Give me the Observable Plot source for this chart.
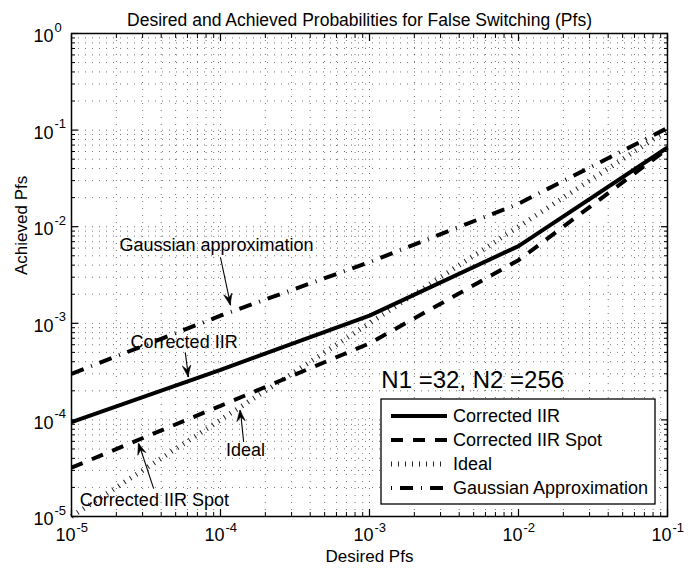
<!DOCTYPE html>
<html><head><meta charset="utf-8">
<script src="https://cdn.jsdelivr.net/npm/d3@7"></script>
<script src="https://cdn.jsdelivr.net/npm/@observablehq/plot@0.6"></script>
<style>
body{margin:0;background:#fff;}
svg{font-family:"Liberation Sans",Arial,Helvetica,sans-serif;}
</style>
</head><body><div id="chart"></div>
<script>
// ---- data ----
const desiredPfs       = [1e-5, 1e-4, 1e-3, 1e-2, 1e-1];
const correctedIIR     = [9.5e-5, 3.3e-4, 1.2e-3, 6.3e-3, 6.6e-2];
const correctedIIRSpot = [3.2e-5, 1.4e-4, 6.2e-4, 4.5e-3, 6.4e-2];
const idealPfs         = [1e-5, 1e-4, 1e-3, 1e-2, 1e-1];
const gaussianApprox   = [3.0e-4, 1.2e-3, 4.3e-3, 1.73e-2, 1.05e-1];
const seriesNames = ["Corrected IIR", "Corrected IIR Spot", "Ideal", "Gaussian Approximation"];
const seriesValues = [correctedIIR, correctedIIRSpot, idealPfs, gaussianApprox];

const xMajorTicks = [1e-5, 1e-4, 1e-3, 1e-2, 1e-1];
const xExponents  = ["-5", "-4", "-3", "-2", "-1"];
const yMajorTicks = [1e-5, 1e-4, 1e-3, 1e-2, 1e-1, 1e0];
const yExponents  = ["-5", "-4", "-3", "-2", "-1", "0"];

const titleText = "Desired and Achieved Probabilities for False Switching (Pfs)";
const xLabel = "Desired Pfs";
const yLabel = "Achieved Pfs";
const paramText = "N1 =32, N2 =256";
const paramPos = {x: 1.2e-3, y: 2.6e-4};

const annotations = [
  {label: "Gaussian approximation", tx: 9.4e-5, ty: 6.4e-3, x1: 1.0e-4, y1: 4.8e-3, x2: 1.17e-4, y2: 1.53e-3},
  {label: "Corrected IIR",          tx: 5.7e-5, ty: 6.4e-4, x1: 5.8e-5, y1: 5.0e-4, x2: 6.1e-5, y2: 2.77e-4},
  {label: "Ideal",                  tx: 1.47e-4, ty: 4.9e-5, x1: 1.43e-4, y1: 5.9e-5, x2: 1.36e-4, y2: 1.25e-4},
  {label: "Corrected IIR Spot",     tx: 3.6e-5, ty: 1.49e-5, x1: 3.56e-5, y1: 1.94e-5, x2: 2.83e-5, y2: 5.66e-5}
];

// ---- styles ----
const styles = {
  "Corrected IIR":          {strokeWidth: 4, dash: null,       offset: 0,  stroke: "#000"},
  "Corrected IIR Spot":     {strokeWidth: 4, dash: "12,10",    offset: 0,  stroke: "#000"},
  "Ideal":                  {strokeWidth: 5, dash: "1,6",      offset: 0,  stroke: "#222"},
  "Gaussian Approximation": {strokeWidth: 4, dash: "13,8,1,8", offset: 21, stroke: "#000"}
};

const rows = seriesNames.flatMap((name, s) =>
  desiredPfs.map((x, i) => ({series: name, x, y: seriesValues[s][i]})));

const minor = (majors) => majors.slice(0, -1).flatMap(m => [2,3,4,5,6,7,8,9].map(k => k * m));
const xMinor = minor(xMajorTicks);
const yMinor = minor(yMajorTicks);
const xAll = [...xMajorTicks, ...xMinor];
const yAll = [...yMajorTicks, ...yMinor];

const W = 697, H = 573;
const M = {top: 33, right: 30, bottom: 57, left: 71};
const tickFont = 18, expFont = 13, labelFont = 17, legendFont = 18, titleFont = 17.5, paramFont = 24;

const lineMark = (name) => Plot.line(rows.filter(r => r.series === name), {
  x: "x", y: "y",
  stroke: styles[name].stroke,
  strokeWidth: styles[name].strokeWidth,
  strokeDasharray: styles[name].dash,
  strokeLinecap: "butt", strokeLinejoin: "miter"
});

const gridStyle = {stroke: "#000", strokeOpacity: 0.55, strokeDasharray: "1,6", strokeWidth: 1};

const plot = Plot.plot({
  width: W, height: H,
  marginTop: M.top, marginRight: M.right, marginBottom: M.bottom, marginLeft: M.left,
  x: {type: "log", domain: [1e-5, 1e-1], axis: null},
  y: {type: "log", domain: [1e-5, 1], axis: null},
  style: {background: "#fff", color: "#000"},
  marks: [
    Plot.ruleX(xAll, {...gridStyle}),
    Plot.ruleY(yAll, {...gridStyle}),
    // inward ticks on all four sides
    Plot.axisX({anchor: "bottom", ticks: xMajorTicks, tickSize: 7, dy: -7, tickFormat: () => "", label: null, strokeWidth: 1.2}),
    Plot.axisX({anchor: "bottom", ticks: xMinor, tickSize: 4, dy: -4, tickFormat: () => "", label: null}),
    Plot.axisX({anchor: "top", ticks: xMajorTicks, tickSize: 7, dy: 7, tickFormat: () => "", label: null, strokeWidth: 1.2}),
    Plot.axisX({anchor: "top", ticks: xMinor, tickSize: 4, dy: 4, tickFormat: () => "", label: null}),
    Plot.axisY({anchor: "left", ticks: yMajorTicks, tickSize: 7, dx: 7, tickFormat: () => "", label: null, strokeWidth: 1.2}),
    Plot.axisY({anchor: "left", ticks: yMinor, tickSize: 4, dx: 4, tickFormat: () => "", label: null}),
    Plot.axisY({anchor: "right", ticks: yMajorTicks, tickSize: 7, dx: -7, tickFormat: () => "", label: null, strokeWidth: 1.2}),
    Plot.axisY({anchor: "right", ticks: yMinor, tickSize: 4, dx: -4, tickFormat: () => "", label: null}),
    // tick labels as 10 + superscript exponent
    Plot.text(xMajorTicks, {x: d => d, frameAnchor: "bottom", text: () => "10", textAnchor: "end", dx: 4, dy: 24, fontSize: tickFont}),
    Plot.text(xMajorTicks, {x: d => d, frameAnchor: "bottom", text: (d, i) => xExponents[i], textAnchor: "start", dx: 5, dy: 15, fontSize: expFont}),
    Plot.text(yMajorTicks, {y: d => d, frameAnchor: "left", text: () => "10", textAnchor: "end", dx: -18, dy: 3, fontSize: tickFont}),
    Plot.text(yMajorTicks, {y: d => d, frameAnchor: "left", text: (d, i) => yExponents[i], textAnchor: "start", dx: -17, dy: -6, fontSize: expFont}),
    // axis labels and title
    Plot.text([xLabel], {frameAnchor: "bottom", text: d => d, dy: 45, fontSize: labelFont}),
    Plot.text([yLabel], {frameAnchor: "left", text: d => d, rotate: -90, dx: -50, fontSize: labelFont}),
    Plot.text([titleText], {frameAnchor: "top", text: d => d, dx: -10, dy: -20, fontSize: titleFont}),
    // series
    lineMark("Ideal"),
    lineMark("Corrected IIR Spot"),
    lineMark("Gaussian Approximation"),
    lineMark("Corrected IIR"),
    // annotation shafts
    Plot.link(annotations, {x1: "x1", y1: "y1", x2: "x2", y2: "y2", stroke: "#000", strokeWidth: 1.1}),
    Plot.text(annotations, {x: "tx", y: "ty", text: "label", fontSize: legendFont}),
    Plot.text([paramText], {x: () => paramPos.x, y: () => paramPos.y, text: d => d, textAnchor: "start", fontSize: paramFont}),
    Plot.frame({stroke: "#000", strokeWidth: 1.5})
  ]
});

const svg = d3.select(plot);
const sx = plot.scale("x"), sy = plot.scale("y");

// ---- filled dart arrowheads at annotation tips (positions via Plot scales) ----
const heads = svg.append("g").attr("class", "arrowheads");
annotations.forEach(a => {
  const px1 = sx.apply(a.x1), py1 = sy.apply(a.y1);
  const px2 = sx.apply(a.x2), py2 = sy.apply(a.y2);
  const ang = Math.atan2(py2 - py1, px2 - px1);
  const L = 12, spread = 0.36, notch = 7;
  const back = (t, len) => [px2 - len * Math.cos(ang + t), py2 - len * Math.sin(ang + t)];
  const p1 = back(spread, L), p2 = back(-spread, L), pn = back(0, notch);
  heads.append("path")
    .attr("d", `M${px2},${py2}L${p1[0]},${p1[1]}L${pn[0]},${pn[1]}L${p2[0]},${p2[1]}Z`)
    .attr("fill", "#000").attr("stroke", "#000").attr("stroke-width", 0.6);
});

// ---- legend box (lower right, inside axes) ----
const boxRight = W - M.right - 12, boxBottom = H - M.bottom - 12;
const boxW = 274, rowH = 24, boxH = 105;
const bx = boxRight - boxW, by = boxBottom - boxH;
const lg = svg.append("g").attr("class", "legend");
lg.append("rect").attr("x", bx).attr("y", by).attr("width", boxW).attr("height", boxH)
  .attr("fill", "#fff").attr("stroke", "#000").attr("stroke-width", 1.3);
seriesNames.forEach((name, i) => {
  const y = by + 17 + i * rowH;
  const st = styles[name];
  lg.append("line").attr("x1", bx + 10).attr("x2", bx + 66).attr("y1", y).attr("y2", y)
    .attr("stroke", st.stroke).attr("stroke-width", st.strokeWidth)
    .attr("stroke-dasharray", st.dash).attr("stroke-dashoffset", st.offset)
    .attr("stroke-linecap", "butt");
  lg.append("text").attr("x", bx + 72).attr("y", y).attr("dy", "0.35em")
    .attr("text-anchor", "start")
    .attr("font-size", legendFont).attr("fill", "#000").text(name);
});

document.getElementById("chart").appendChild(plot);
</script>
</body></html>
